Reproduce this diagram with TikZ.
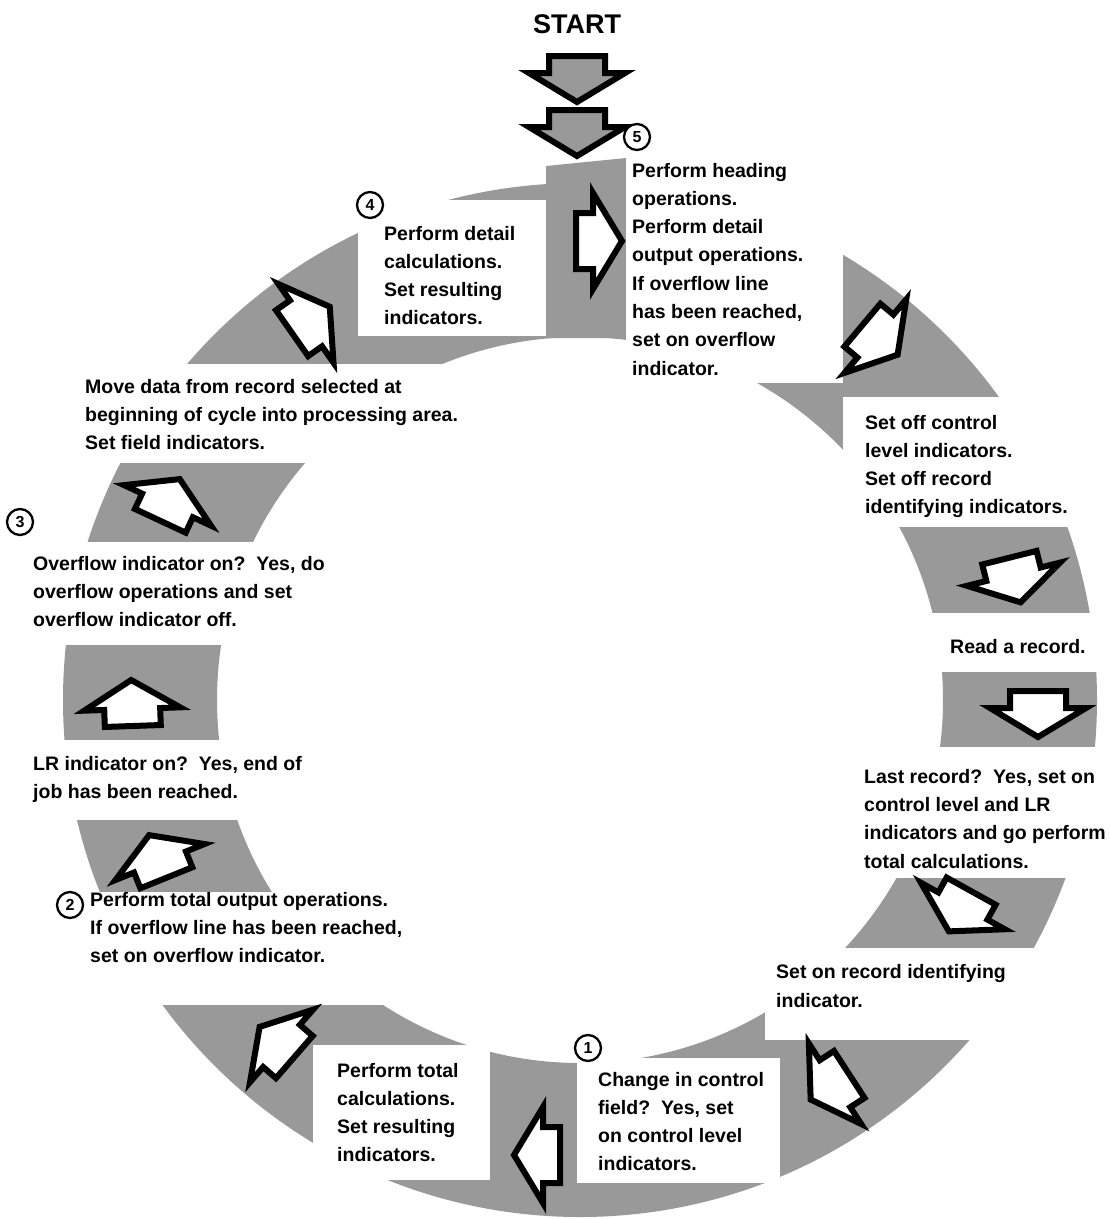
\documentclass[tikz,border=0pt]{standalone}
\usepackage{fontspec}
\setmainfont{Liberation Sans}
\colorlet{ringgray}{black!40}
\newcommand\BlkArrow[4]{\draw[arrowline,fill=#4,shift={(#1,#2)},rotate=-#3] (-17,-28) -- (0,-28) -- (0,-48) -- (29,0) -- (0,48) -- (0,28) -- (-17,28) -- cycle;}
\begin{document}
\begin{tikzpicture}[x=1pt,y=-1pt,
  txt/.style={anchor=base west, align=left, inner sep=0pt, font=\fontsize{19.5}{28.3}\selectfont\bfseries},
  numc/.style={circle, draw, line width=2.3pt, fill=white, minimum size=26pt, inner sep=0pt, font=\fontsize{16}{16}\selectfont\bfseries},
  arrowline/.style={line width=6pt, line join=miter, draw=black},
  mask/.style={fill=white}]
\path[use as bounding box, fill=white] (0,0) rectangle (1110,1219);
% ring
\fill[ringgray, even odd rule] (580,700) circle[radius=517] (580,700) circle[radius=363];
\fill[ringgray] (546,166) -- (626,158) -- (626,338) -- (546,338) -- cycle;
% white gaps where the texts stand
\fill[mask] (626,120) rectangle (843,383);
\fill[mask] (843,397) rectangle (1110,527);
\fill[mask] (880,613) rectangle (1110,672);
\fill[mask] (855,747) rectangle (1110,878);
\fill[mask] (765,948) rectangle (1110,1040);
\fill[mask] (577,1058) rectangle (780,1183);
\fill[mask] (313,1045) rectangle (490,1180);
\fill[mask] (40,892) rectangle (420,1005);
\fill[mask] (0,740) rectangle (430,820);
\fill[mask] (0,542) rectangle (430,645);
\fill[mask] (40,364) rectangle (455,463);
\fill[mask] (358,200) rectangle (546,336);
% start
\node[anchor=base, inner sep=0pt, font=\fontsize{27}{27}\selectfont\bfseries] (start) at (577,33) {START};
\BlkArrow{577}{73}{90}{ringgray}
\BlkArrow{577}{127}{90}{ringgray}
% ring arrows
\BlkArrow{593}{241}{0}{white}
\BlkArrow{875.4}{336.1}{40}{white}
\BlkArrow{1013.5}{574.2}{76}{white}
\BlkArrow{1038}{708}{90}{white}
\BlkArrow{962.9}{906}{119}{white}
\BlkArrow{835}{1083.7}{147}{white}
\BlkArrow{543}{1155}{180}{white}
\BlkArrow{281.5}{1045.9}{221}{white}
\BlkArrow{160}{862}{248}{white}
\BlkArrow{132.2}{709}{268}{white}
\BlkArrow{167.5}{505.4}{295}{white}
\BlkArrow{306}{323.4}{325}{white}
% texts (anchor is the baseline of the last line)
\node[txt] (t5) at (632,375.1) {Perform heading\\operations.\\Perform detail\\output operations.\\If overflow line\\has been reached,\\set on overflow\\indicator.};
\node[txt] (toff) at (865,513.9) {Set off control\\level indicators.\\Set off record\\identifying indicators.};
\node[txt] (tread) at (950,653) {Read a record.};
\node[txt] (tlast) at (864,868) {Last record?\ \ Yes, set on\\control level and LR\\indicators and go perform\\total calculations.};
\node[txt] (tseton) at (776,1007) {Set on record identifying\\indicator.};
\node[txt] (t1) at (598,1170.9) {Change in control\\field?\ \ Yes, set\\on control level\\indicators.};
\node[txt] (ttc) at (337,1161.9) {Perform total\\calculations.\\Set resulting\\indicators.};
\node[txt] (t2) at (90,962.6) {Perform total output operations.\\If overflow line has been reached,\\set on overflow indicator.};
\node[txt] (tlr) at (33,798.3) {LR indicator on?\ \ Yes, end of\\job has been reached.};
\node[txt] (t3) at (33,626.6) {Overflow indicator on?\ \ Yes, do\\overflow operations and set\\overflow indicator off.};
\node[txt] (tmove) at (85,449.6) {Move data from record selected at\\beginning of cycle into processing area.\\Set field indicators.};
\node[txt] (t4) at (384,324.9) {Perform detail\\calculations.\\Set resulting\\indicators.};
% step numbers
\node[numc] (n5) at (637,137) {5};
\node[numc] (n4) at (370,205) {4};
\node[numc] (n3) at (20,522) {3};
\node[numc] (n2) at (70,905) {2};
\node[numc] (n1) at (588,1048) {1};
\end{tikzpicture}
\end{document}
